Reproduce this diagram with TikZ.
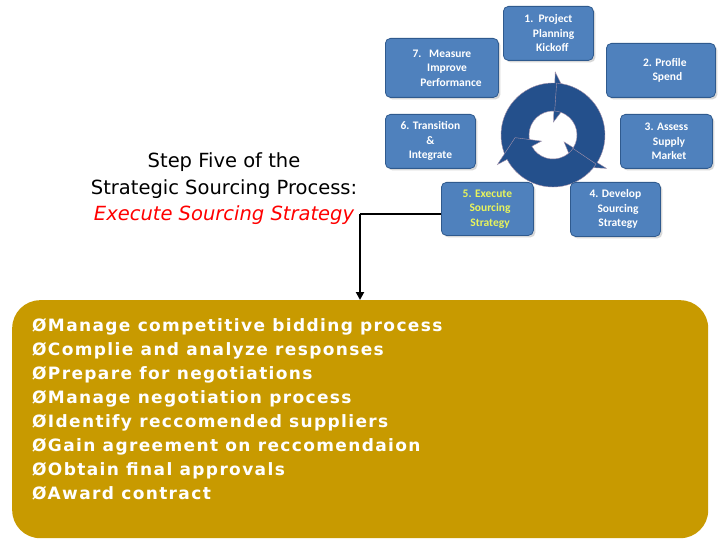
\documentclass[tikz,border=0pt]{standalone}
\usepackage{fontspec}
\setmainfont{Liberation Sans}
\newfontfamily\carfont{Carlito}
\newfontfamily\dvfont[LetterSpace=8]{DejaVu Sans}
\newfontfamily\titlefont{DejaVu Sans}
\usetikzlibrary{arrows.meta,shadows}
\definecolor{boxblue}{HTML}{4F81BD}
\definecolor{boxedge}{HTML}{2F5A8E}
\definecolor{cyc}{HTML}{24508C}
\definecolor{gold}{HTML}{C89A00}
\definecolor{yel}{HTML}{E8F45C}
\tikzset{
 stepbox/.style={draw=boxedge,fill=boxblue,rounded corners=5pt,line width=0.8pt,
   drop shadow={shadow xshift=2pt,shadow yshift=-2pt,opacity=0.3},
   text=white,font=\carfont\bfseries\fontsize{11.5}{14.5}\selectfont,align=center,anchor=north west,inner sep=1pt},
}
\begin{document}
\begin{tikzpicture}[x=1pt,y=-1pt]
\useasboundingbox (0,0) rectangle (720,540);
\fill[white] (0,0) rectangle (720,540);
% cycle
\begin{scope}[shift={(553,135)}]
\foreach \t in {-88,32,152}{
 \fill[cyc,draw=pink!60!cyc,line width=0.4pt] (\t-118:52) arc[start angle=\t-118,end angle=\t,radius=52]
   -- (\t:63) -- (\t+24:38) -- (\t:13) -- (\t:24) arc[start angle=\t,end angle=\t-118,radius=24] -- cycle;
}
\end{scope}
\node[stepbox,minimum width=90pt,minimum height=54pt] (s1) at (503,6) {1.\ \ Project\\\ \ \ \ Planning\\\ \ \ Kickoff};
\node[stepbox,minimum width=113pt,minimum height=59pt] (s7) at (385,38) {7.\ \ \ Measure\\\ \ \ \ Improve\\\ \ \ \ \ \ \ Performance};
\node[stepbox,minimum width=109pt,minimum height=54pt] (s2) at (606,43) {\ \ \ 2. Profile\\\ \ \ \ \ Spend};
\node[stepbox,minimum width=90pt,minimum height=54pt] (s6) at (385,114) {6. Transition\\\&\\Integrate};
\node[stepbox,minimum width=92pt,minimum height=54pt] (s3) at (620,114) {3. Assess\\\ \ Supply\\\ \ Market};
\node[stepbox,minimum width=92pt,minimum height=53pt,text=yel] (s5) at (441,182) {5. Execute\\\ \ Sourcing\\\ \ Strategy};
\node[stepbox,minimum width=90pt,minimum height=54pt] (s4) at (570,182) {4. Develop\\\ \ Sourcing\\\ \ Strategy};
% title
\node[align=center,font=\titlefont\fontsize{19.5}{26.5}\selectfont,anchor=center] (title) at (224,189)
 {Step Five of the\\Strategic Sourcing Process:\\\textcolor{red}{\itshape Execute Sourcing Strategy}};
% bottom box
\node[fill=gold,rounded corners=28pt,minimum width=696pt,minimum height=238pt,anchor=north west,inner sep=0pt] (list) at (12,300) {};
\node[anchor=north west,align=left,text=white,font=\dvfont\bfseries\fontsize{17}{24}\selectfont,inner sep=0pt] (items) at (32,318)
{ØManage competitive bidding process\\
ØComplie and analyze responses\\
ØPrepare for negotiations\\
ØManage negotiation process\\
ØIdentify reccomended suppliers\\
ØGain agreement on reccomendaion\\
ØObtain final approvals\\
ØAward contract};
\coordinate (j) at (360,214);
\draw[line width=2.5pt] (s5.west|-j) -- (j);
\draw[line width=2pt,-{Triangle[length=8pt,width=8pt]}] (j) -- (j|-list.north);
\end{tikzpicture}
\end{document}
